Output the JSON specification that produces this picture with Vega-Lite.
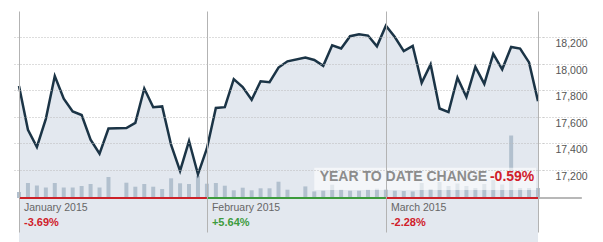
{
  "$schema": "https://vega.github.io/schema/vega-lite/v6.json",
  "width": 529,
  "height": 187,
  "autosize": {"type": "none"},
  "padding": {"left": 14, "top": 11, "right": 60, "bottom": 44},
  "background": "white",
  "config": {"view": {"stroke": null}, "font": "Liberation Sans"},
  "datasets": {
    "days": [
      {"i": 0, "date": "2015-01-02", "close": 17832.99, "volume": 60},
      {"i": 1, "date": "2015-01-05", "close": 17501.65, "volume": 150},
      {"i": 2, "date": "2015-01-06", "close": 17371.64, "volume": 125},
      {"i": 3, "date": "2015-01-07", "close": 17584.52, "volume": 105},
      {"i": 4, "date": "2015-01-08", "close": 17907.87, "volume": 150},
      {"i": 5, "date": "2015-01-09", "close": 17737.37, "volume": 105},
      {"i": 6, "date": "2015-01-12", "close": 17640.84, "volume": 105},
      {"i": 7, "date": "2015-01-13", "close": 17613.68, "volume": 120},
      {"i": 8, "date": "2015-01-14", "close": 17427.09, "volume": 140},
      {"i": 9, "date": "2015-01-15", "close": 17320.71, "volume": 105},
      {"i": 10, "date": "2015-01-16", "close": 17511.57, "volume": 210},
      {"i": 12, "date": "2015-01-20", "close": 17515.23, "volume": 153},
      {"i": 13, "date": "2015-01-21", "close": 17554.28, "volume": 113},
      {"i": 14, "date": "2015-01-22", "close": 17813.98, "volume": 140},
      {"i": 15, "date": "2015-01-23", "close": 17672.60, "volume": 113},
      {"i": 16, "date": "2015-01-26", "close": 17678.70, "volume": 90},
      {"i": 17, "date": "2015-01-27", "close": 17387.21, "volume": 197},
      {"i": 18, "date": "2015-01-28", "close": 17191.37, "volume": 147},
      {"i": 19, "date": "2015-01-29", "close": 17416.85, "volume": 140},
      {"i": 20, "date": "2015-01-30", "close": 17164.95, "volume": 223},
      {"i": 21, "date": "2015-02-02", "close": 17361.04, "volume": 143},
      {"i": 22, "date": "2015-02-03", "close": 17666.40, "volume": 150},
      {"i": 23, "date": "2015-02-04", "close": 17673.02, "volume": 123},
      {"i": 24, "date": "2015-02-05", "close": 17884.88, "volume": 77},
      {"i": 25, "date": "2015-02-06", "close": 17824.29, "volume": 103},
      {"i": 26, "date": "2015-02-09", "close": 17729.21, "volume": 77},
      {"i": 27, "date": "2015-02-10", "close": 17868.76, "volume": 97},
      {"i": 28, "date": "2015-02-11", "close": 17862.14, "volume": 97},
      {"i": 29, "date": "2015-02-12", "close": 17972.38, "volume": 163},
      {"i": 30, "date": "2015-02-13", "close": 18019.35, "volume": 83},
      {"i": 32, "date": "2015-02-17", "close": 18047.58, "volume": 116},
      {"i": 33, "date": "2015-02-18", "close": 18029.85, "volume": 66},
      {"i": 34, "date": "2015-02-19", "close": 17985.77, "volume": 73},
      {"i": 35, "date": "2015-02-20", "close": 18140.44, "volume": 133},
      {"i": 36, "date": "2015-02-23", "close": 18116.84, "volume": 83},
      {"i": 37, "date": "2015-02-24", "close": 18209.19, "volume": 73},
      {"i": 38, "date": "2015-02-25", "close": 18224.57, "volume": 73},
      {"i": 39, "date": "2015-02-26", "close": 18214.42, "volume": 83},
      {"i": 40, "date": "2015-02-27", "close": 18132.70, "volume": 93},
      {"i": 41, "date": "2015-03-02", "close": 18288.63, "volume": 90},
      {"i": 42, "date": "2015-03-03", "close": 18203.37, "volume": 73},
      {"i": 43, "date": "2015-03-04", "close": 18096.90, "volume": 70},
      {"i": 44, "date": "2015-03-05", "close": 18135.72, "volume": 66},
      {"i": 45, "date": "2015-03-06", "close": 17856.78, "volume": 150},
      {"i": 46, "date": "2015-03-09", "close": 17995.72, "volume": 90},
      {"i": 47, "date": "2015-03-10", "close": 17662.94, "volume": 160},
      {"i": 48, "date": "2015-03-11", "close": 17635.39, "volume": 120},
      {"i": 49, "date": "2015-03-12", "close": 17895.22, "volume": 145},
      {"i": 50, "date": "2015-03-13", "close": 17749.31, "volume": 120},
      {"i": 51, "date": "2015-03-16", "close": 17977.42, "volume": 100},
      {"i": 52, "date": "2015-03-17", "close": 17849.08, "volume": 140},
      {"i": 53, "date": "2015-03-18", "close": 18076.19, "volume": 180},
      {"i": 54, "date": "2015-03-19", "close": 17959.03, "volume": 135},
      {"i": 55, "date": "2015-03-20", "close": 18127.65, "volume": 625},
      {"i": 56, "date": "2015-03-23", "close": 18116.04, "volume": 100},
      {"i": 57, "date": "2015-03-24", "close": 18011.14, "volume": 100},
      {"i": 58, "date": "2015-03-25", "close": 17718.54, "volume": 100}
    ],
    "segments": [
      {"a": 0, "b": 21, "c": "#cc2229"},
      {"a": 21, "b": 41, "c": "#3d9b3d"},
      {"a": 41, "b": 58, "c": "#cc2229"},
      {"a": 58, "b": 62.9, "c": "#b8b8b8"}
    ],
    "box": [{"x0": 33.0, "x1": 57.8, "y0": 17047, "y1": 17215}],
    "note": [{"i": 33.6, "v": 17115, "t": "YEAR TO DATE CHANGE"}],
    "ytd": [{"i": 52.63, "v": 17115, "t": "-0.59%"}]
  },
  "layer": [
    {
      "data": {"name": "days"},
      "mark": {"type": "area", "color": "#e3e8ef"},
      "encoding": {
        "x": {
          "field": "i", "type": "quantitative",
          "scale": {"domain": [0, 58], "nice": false, "zero": false},
          "axis": {
            "orient": "bottom", "values": [0, 21, 41, 58], "domain": false,
            "ticks": true, "tickSize": 34, "tickColor": "#b3b3b3", "tickWidth": 1,
            "grid": true, "gridColor": "#b3b3b3", "gridWidth": 1,
            "labels": false, "title": null, "zindex": 1
          }
        },
        "y": {
          "field": "close", "type": "quantitative",
          "scale": {"domain": [16986, 18400], "nice": false, "zero": false},
          "axis": {
            "orient": "right", "values": [17200, 17400, 17600, 17800, 18000, 18200],
            "domain": false, "ticks": true, "tickSize": 45,
            "tickColor": "#bbbbbb", "tickDash": [1, 2], "grid": true,
            "gridColor": "#bbbbbb", "gridDash": [1, 2],
            "labels": false, "title": null, "zindex": 1
          }
        }
      }
    },
    {
      "data": {"name": "days"},
      "mark": {"type": "bar", "color": "#b2c0ce", "size": 4, "clip": true},
      "encoding": {
        "x": {
          "field": "i", "type": "quantitative",
          "scale": {"domain": [0, 58], "nice": false, "zero": false},
          "axis": {
            "orient": "bottom", "values": [0, 21, 41], "domain": false, "ticks": false, "grid": false,
            "labelExpr": "datum.value == 0 ? 'January 2015' : datum.value == 21 ? 'February 2015' : 'March 2015'",
            "labelAlign": "left", "labelBaseline": "alphabetic", "labelPadding": 12.4,
            "labelOffset": 4.5, "labelFontSize": 10.5, "labelColor": "#666666",
            "labelOverlap": false, "labelBound": false, "labelFlush": false,
            "title": null, "zindex": 1
          }
        },
        "y": {"field": "volume", "type": "quantitative", "scale": {"domain": [0, 1870], "nice": false}, "axis": null}
      }
    },
    {
      "data": {"name": "box"},
      "mark": {"type": "rect", "color": "#ffffff", "opacity": 0.6},
      "encoding": {
        "x": {"field": "x0", "type": "quantitative", "scale": {"domain": [0, 58], "nice": false, "zero": false}, "axis": null},
        "x2": {"field": "x1"},
        "y": {"field": "y0", "type": "quantitative", "scale": {"domain": [16986, 18400], "nice": false, "zero": false}, "axis": null},
        "y2": {"field": "y1"}
      }
    },
    {
      "data": {"name": "note"},
      "mark": {"type": "text", "align": "left", "baseline": "alphabetic", "fontSize": 14, "fontWeight": "bold", "color": "#8c8c8c", "font": "Liberation Sans"},
      "encoding": {
        "x": {"field": "i", "type": "quantitative", "scale": {"domain": [0, 58], "nice": false, "zero": false}, "axis": null},
        "y": {"field": "v", "type": "quantitative", "scale": {"domain": [16986, 18400], "nice": false, "zero": false}, "axis": null},
        "text": {"field": "t"}
      }
    },
    {
      "data": {"name": "ytd"},
      "mark": {"type": "text", "align": "left", "baseline": "alphabetic", "fontSize": 14, "fontWeight": "bold", "color": "#d0202a", "font": "Liberation Sans"},
      "encoding": {
        "x": {"field": "i", "type": "quantitative", "scale": {"domain": [0, 58], "nice": false, "zero": false}, "axis": null},
        "y": {"field": "v", "type": "quantitative", "scale": {"domain": [16986, 18400], "nice": false, "zero": false}, "axis": null},
        "text": {"field": "t"}
      }
    },
    {
      "data": {"name": "segments"},
      "mark": {"type": "rule", "strokeWidth": 2},
      "encoding": {
        "x": {"field": "a", "type": "quantitative", "scale": {"domain": [0, 58], "nice": false, "zero": false}, "axis": null},
        "x2": {"field": "b"},
        "y": {"datum": 16986, "type": "quantitative", "scale": {"domain": [16986, 18400], "nice": false, "zero": false}, "axis": null},
        "color": {"field": "c", "type": "nominal", "scale": null}
      }
    },
    {
      "data": {"name": "days"},
      "mark": {"type": "line", "color": "#1b3446", "strokeWidth": 2.5},
      "encoding": {
        "x": {
          "field": "i", "type": "quantitative",
          "scale": {"domain": [0, 58], "nice": false, "zero": false},
          "axis": {
            "orient": "bottom", "values": [0, 21, 41], "domain": false, "ticks": false,
            "grid": false,
            "labelExpr": "datum.value == 0 ? '-3.69%' : datum.value == 21 ? '+5.64%' : '-2.28%'",
            "labelAlign": "left", "labelBaseline": "alphabetic", "labelPadding": 27.7,
            "labelOffset": 4.5, "labelFontSize": 11, "labelFontWeight": "bold",
            "labelColor": {"condition": {"test": "datum.value == 21", "value": "#3d9b3d"}, "value": "#d0202a"},
            "labelOverlap": false, "labelBound": false, "labelFlush": false,
            "title": null, "zindex": 1
          }
        },
        "y": {
          "field": "close", "type": "quantitative",
          "scale": {"domain": [16986, 18400], "nice": false, "zero": false},
          "axis": {
            "orient": "right", "values": [17200, 17400, 17600, 17800, 18000, 18200],
            "format": ",.0f", "domain": false, "ticks": false, "grid": false,
            "labelAlign": "left", "labelBaseline": "alphabetic", "labelPadding": 12,
            "labelOffset": 9.5, "labelFontSize": 10.5, "labelColor": "#555555",
            "labelOverlap": false, "labelBound": false, "labelFlush": false,
            "title": null, "zindex": 1
          }
        }
      }
    }
  ],
  "resolve": {"scale": {"y": "independent"}, "axis": {"x": "independent", "y": "independent"}}
}
